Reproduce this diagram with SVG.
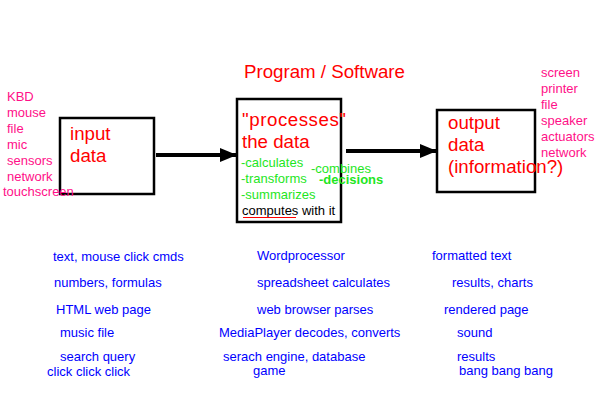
<svg xmlns="http://www.w3.org/2000/svg" width="600" height="400" viewBox="0 0 600 400">
<style>
text{font-family:"Liberation Sans",Arial,sans-serif}
.box{fill:#fff;stroke:#000;stroke-width:2.5}
.big{font-size:18.7px;fill:#ff0000}
.pink{font-size:13px;fill:#ff1088}
.grn{font-size:13px;fill:#1ee61e}
.blu{font-size:13px;fill:#0000ff}
.conn{stroke:#000;stroke-width:4;fill:none}
</style>
<defs>
<marker id="ah" markerUnits="userSpaceOnUse" markerWidth="18" markerHeight="14" refX="17" refY="7" orient="auto">
<path d="M0,0 L17,7 L0,14 Z" fill="#000"/>
</marker>
</defs>
<rect width="600" height="400" fill="#fff"/>
<text class="big" x="244" y="78">Program / Software</text>
<g id="input-node">
<rect class="box" x="60" y="118" width="94" height="76"/>
<text class="big" x="70" y="140">input</text>
<text class="big" x="70" y="162">data</text>
</g>
<g id="input-devices">
<text class="pink" x="7" y="101">KBD</text>
<text class="pink" x="7" y="117">mouse</text>
<text class="pink" x="7" y="133">file</text>
<text class="pink" x="7" y="149">mic</text>
<text class="pink" x="7" y="165">sensors</text>
<text class="pink" x="7" y="181">network</text>
<text class="pink" x="3" y="196">touchscreen</text>
</g>
<g id="process-node">
<rect class="box" x="237" y="99" width="104" height="123"/>
<text class="big" x="242" y="126" textLength="104">"processes"</text>
<text class="big" x="242" y="148">the data</text>
<text class="grn" x="241" y="167">-calculates</text>
<text class="grn" x="241" y="183">-transforms</text>
<text class="grn" x="241" y="199">-summarizes</text>
<text x="242" y="215" font-size="13" fill="#000">computes with it</text>
<line x1="243" y1="217.5" x2="296" y2="217.5" stroke="#ff0000" stroke-width="1"/>
<text class="grn" x="311" y="173">-combines</text>
<text class="grn" x="319" y="184" font-weight="bold" font-size="14.4">-decisions</text>
</g>
<g id="output-node">
<rect class="box" x="437" y="110" width="98" height="82"/>
<text class="big" x="448" y="129">output</text>
<text class="big" x="448" y="151">data</text>
<text class="big" x="448" y="173">(information?)</text>
</g>
<g id="output-devices">
<text class="pink" x="541" y="77">screen</text>
<text class="pink" x="541" y="93">printer</text>
<text class="pink" x="541" y="109">file</text>
<text class="pink" x="541" y="125">speaker</text>
<text class="pink" x="541" y="141">actuators</text>
<text class="pink" x="541" y="157">network</text>
</g>
<g id="connectors">
<line class="conn" x1="156" y1="155" x2="237" y2="155" marker-end="url(#ah)"/>
<line class="conn" x1="346" y1="151" x2="437" y2="151" marker-end="url(#ah)"/>
</g>
<g id="examples">
<text class="blu" x="53" y="261">text, mouse click cmds</text>
<text class="blu" x="54" y="287">numbers, formulas</text>
<text class="blu" x="56" y="314">HTML web page</text>
<text class="blu" x="60" y="337">music file</text>
<text class="blu" x="60" y="361">search query</text>
<text class="blu" x="47" y="376">click click click</text>
<text class="blu" x="257" y="260">Wordprocessor</text>
<text class="blu" x="257" y="287">spreadsheet calculates</text>
<text class="blu" x="257" y="314">web browser parses</text>
<text class="blu" x="219" y="337">MediaPlayer decodes, converts</text>
<text class="blu" x="223" y="361">serach engine, database</text>
<text class="blu" x="253" y="375">game</text>
<text class="blu" x="432" y="260">formatted text</text>
<text class="blu" x="452" y="287">results, charts</text>
<text class="blu" x="444" y="314">rendered page</text>
<text class="blu" x="457" y="337">sound</text>
<text class="blu" x="457" y="361">results</text>
<text class="blu" x="459" y="375">bang bang bang</text>
</g>
</svg>
